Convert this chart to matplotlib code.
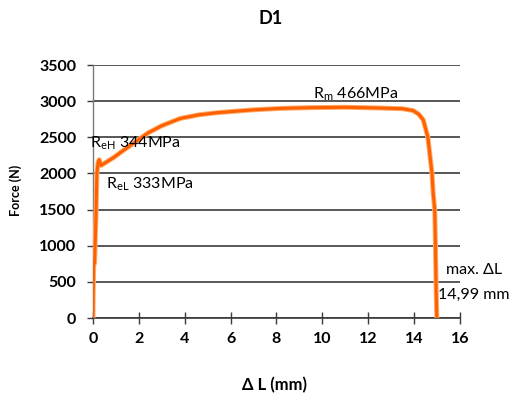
import matplotlib
matplotlib.use("Agg")
import matplotlib.pyplot as plt

plt.rcParams['font.family'] = ['Lato', 'DejaVu Sans']
plt.rcParams['mathtext.fontset'] = 'custom'
plt.rcParams['mathtext.rm'] = 'Lato'

# Force-elongation curve
elongation_mm = [0.0, 0.01, 0.03, 0.07, 0.1, 0.13, 0.17, 0.22, 0.27, 0.35, 0.5, 0.9, 1.2,
                 1.6, 2.0, 2.4, 3.0, 3.8, 4.6, 5.4, 6.0, 7.0, 8.2, 9.5, 11.0, 12.5,
                 13.5, 13.95, 14.2, 14.4, 14.6, 14.78, 14.83, 14.9, 14.93, 14.96, 14.99]
force_N = [0, 350, 730, 760, 1100, 1400, 2000, 2150, 2190, 2110, 2140, 2220, 2290,
           2380, 2470, 2560, 2660, 2760, 2810, 2840, 2855, 2880, 2900, 2910, 2915, 2905,
           2895, 2870, 2820, 2740, 2500, 2000, 1730, 1490, 1000, 400, 0]

x_ticks = [0, 2, 4, 6, 8, 10, 12, 14, 16]
y_ticks = [0, 500, 1000, 1500, 2000, 2500, 3000, 3500]

fig = plt.figure(figsize=(5.18, 4.05), dpi=100)
ax = fig.add_axes([0.1795, 0.2148, 0.7085, 0.6247])

ax.set_xlim(0, 16)
ax.set_ylim(0, 3500)
ax.set_xticks(x_ticks)
ax.set_yticks(y_ticks)
ax.yaxis.grid(True, color='#3a3a3a', linewidth=1.2)
ax.set_axisbelow(True)
for s in ['top', 'right']:
    ax.spines[s].set_visible(False)
ax.spines['left'].set_color('#7a7a7a')
ax.spines['bottom'].set_color('#3a3a3a')
ax.spines['left'].set_linewidth(1.0)
ax.spines['bottom'].set_linewidth(1.2)
ax.tick_params(axis='x', direction='inout', length=8, width=1.0, colors='#3a3a3a',
               labelcolor='black', labelsize=11.5, pad=6)
ax.tick_params(axis='y', direction='out', length=4, width=1.0, colors='#3a3a3a',
               labelcolor='black', labelsize=11.5, pad=8)
for lab in ax.get_xticklabels() + ax.get_yticklabels():
    lab.set_fontweight('bold')

ax.plot(elongation_mm, force_N, color='#ffb070', linewidth=3.6, solid_capstyle='round', zorder=3)
ax.plot(elongation_mm, force_N, color='#ff6000', linewidth=2.2, solid_capstyle='round', zorder=4)

fig.text(0.522, 0.955, 'D1', ha='center', va='center', fontsize=13, fontweight='bold')
fig.text(0.03, 0.53, 'Force (N)', rotation=90, ha='center', va='center', fontsize=9, fontweight='bold')
fig.text(0.53, 0.05, 'Δ L (mm)', ha='center', va='center', fontsize=12, fontweight='bold')

ax.text(-0.12, 2420, r'R$_{\mathrm{eH}}$ 344MPa', fontsize=11.5, va='center', ha='left', zorder=5)
ax.text(0.55, 1850, r'R$_{\mathrm{eL}}$ 333MPa', fontsize=11.5, va='center', ha='left', zorder=5)
ax.text(9.6, 3090, r'R$_{\mathrm{m}}$ 466MPa', fontsize=11.5, va='center', ha='left', zorder=5)
ax.text(16.6, 660, 'max. ΔL', fontsize=11.5, va='center', ha='center', zorder=5, clip_on=False)
ax.text(16.6, 320, '14,99 mm', fontsize=11.5, va='center', ha='center', zorder=5, clip_on=False)

fig.savefig('out.png', dpi=100)
